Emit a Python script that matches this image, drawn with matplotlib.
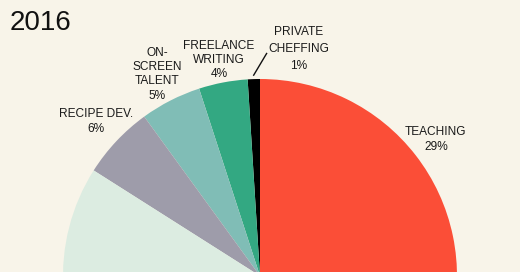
import numpy as np
import matplotlib.pyplot as plt

plt.rcParams['font.family'] = ['Liberation Sans', 'DejaVu Sans']

# shares in percent, counter-clockwise from 12 o'clock
labels = ["PRIVATE\nCHEFFING", "FREELANCE\nWRITING", "ON-\nSCREEN\nTALENT",
          "RECIPE DEV.", "", "", "TEACHING"]
shares = [1, 4, 5, 6, 20, 35, 29]
colors = ["#000000", "#33a882", "#80bdb6", "#9e9caa", "#dcece1", "#c9c3b2", "#fb4e37"]
title = "2016"

# label distance (in radii) for each slice
label_r = [1.17, 1.115, 1.15, 1.145, 1.14, 1.14, 1.13]

bg = "#f8f4e9"
fig = plt.figure(figsize=(5.2, 2.72), dpi=100, facecolor=bg)
ax = fig.add_axes([0, 0, 1, 1])
ax.set_facecolor(bg)

cx, cy, r = 260, -4, 197
wedges, _ = ax.pie(shares, colors=colors, startangle=90, counterclock=True,
                   center=(cx, cy), radius=r,
                   wedgeprops=dict(linewidth=0))

style = dict(ha="center", va="center", fontsize=8.6, color="#1a1a1a",
             multialignment="center")

for w, lab, s, lr in zip(wedges, labels, shares, label_r):
    if not lab:
        continue
    mid = np.deg2rad((w.theta1 + w.theta2) / 2)
    txt = lab + "\n" + f"{s}%"
    if s == 1:
        # small slice: label pushed to the right with a leader line
        a0, a1 = mid, mid - np.deg2rad(3.5)
        ax.plot([cx + 1.02 * r * np.cos(a0), cx + 1.13 * r * np.cos(a1)],
                [cy + 1.02 * r * np.sin(a0), cy + 1.13 * r * np.sin(a1)],
                color="#111111", lw=1)
        at = mid - np.deg2rad(11.5)
        ax.text(cx + lr * r * np.cos(at), cy + lr * r * np.sin(at), txt,
                linespacing=1.55, **style)
    else:
        ax.text(cx + lr * r * np.cos(mid), cy + lr * r * np.sin(mid), txt,
                linespacing=1.25, **style)

ax.text(10, 249, title, fontsize=20, color="#111111", ha="left", va="center")

ax.set_xlim(0, 520)
ax.set_ylim(0, 272)
ax.set_aspect("auto")
ax.axis("off")

fig.savefig("out.png", dpi=100, facecolor=bg)
